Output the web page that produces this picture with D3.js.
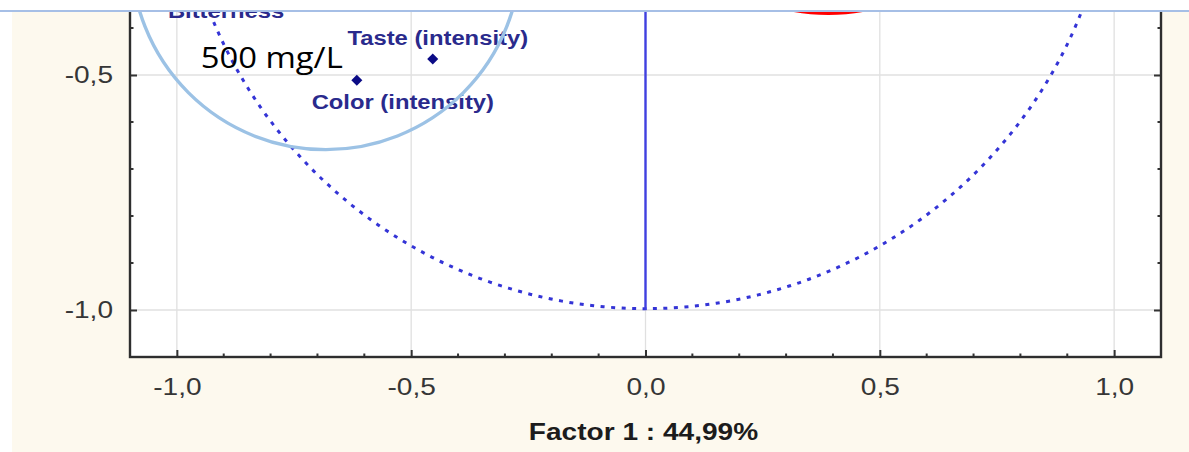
<!DOCTYPE html>
<html>
<head>
<meta charset="utf-8">
<script src="https://cdn.jsdelivr.net/npm/d3@7"></script>
<style>
  html, body { margin: 0; padding: 0; background: #ffffff; }
  svg { display: block; }
</style>
</head>
<body>
<svg id="chart" width="1189" height="452"></svg>
<script>
// Factor loadings (Factor 1, Factor 2) of the sensory variables
const variables = ["Bitterness", "Taste (intensity)", "Color (intensity)"];
const factor1 = [-0.895, -0.454, -0.616];
const factor2 = [-0.319, -0.466, -0.511];

// Axis ticks and their labels (decimal comma)
const tickValues = [-1.0, -0.5, 0.0, 0.5, 1.0];
const tickLabels = ["-1,0", "-0,5", "0,0", "0,5", "1,0"];
const minorTickValues = d3.range(-11, 12).map(i => i / 10);
const xTitle = "Factor 1 : 44,99%";

// Highlight annotations drawn over the plot (data units)
const concentrationNote = "500 mg/L";
const noteAnchor = [-0.949, -0.485];
const highlightCircle = { cx: -0.682, cy: -0.245, r: 0.415 };
const highlightEllipse = { cx: 0.39, cy: -0.255, rx: 0.213, ry: 0.113 };

const W = 1189, H = 452, TOP = 12;
const svg = d3.select("#chart");

const x = d3.scaleLinear().domain([-1.1, 1.1]).range([130, 1161]);
const y = d3.scaleLinear().domain([-1.1, 1.1]).range([357, 357 - 2.2 * 470]);
const unitPx = x(1) - x(0);

// page backgrounds
svg.append("rect").attr("width", W).attr("height", H).attr("fill", "#ffffff");
svg.append("rect").attr("x", 12).attr("y", TOP).attr("width", W - 12).attr("height", H - TOP)
  .attr("fill", "#fdf9ee");

svg.append("defs").append("clipPath").attr("id", "below-rule")
  .append("rect").attr("x", 0).attr("y", TOP).attr("width", W).attr("height", H - TOP);

const g = svg.append("g").attr("clip-path", "url(#below-rule)");

// plot area
const [x0, x1] = x.range();
const [yb, yt] = y.range();
g.append("rect").attr("x", x0).attr("y", yt).attr("width", x1 - x0).attr("height", yb - yt)
  .attr("fill", "#ffffff");

// gridlines
g.append("g").selectAll("line").data(tickValues).join("line")
  .attr("x1", d => x(d)).attr("x2", d => x(d)).attr("y1", yt).attr("y2", yb)
  .attr("stroke", "#e0e0e0").attr("stroke-width", 1.3);
g.append("g").selectAll("line").data(tickValues).join("line")
  .attr("x1", x0).attr("x2", x1).attr("y1", d => y(d)).attr("y2", d => y(d))
  .attr("stroke", "#e0e0e0").attr("stroke-width", 1.3);

// unit correlation circle and the zero axes
g.append("circle").attr("cx", x(0)).attr("cy", y(0)).attr("r", unitPx)
  .attr("fill", "none").attr("stroke", "#3434d6").attr("stroke-width", 3)
  .attr("stroke-dasharray", "4 6.5");
g.append("line").attr("x1", x(0)).attr("x2", x(0)).attr("y1", y(-1)).attr("y2", y(1))
  .attr("stroke", "#4040e0").attr("stroke-width", 2.4);
g.append("line").attr("x1", x(-1)).attr("x2", x(1)).attr("y1", y(0)).attr("y2", y(0))
  .attr("stroke", "#4040e0").attr("stroke-width", 2.4);

// axes with inward ticks
const fmt = d => tickLabels[tickValues.indexOf(d)];
const inView = v => y(v) > TOP;
const axisStyle = sel => {
  sel.select(".domain").remove();
  sel.selectAll(".tick line").attr("stroke", "#333").attr("stroke-width", 2);
  sel.selectAll(".tick text").attr("fill", "#363636")
    .style("font-family", "'Liberation Sans', Arial, sans-serif").style("font-size", "23px")
    .classed("stretch", true);
};
const minorTicks = (sel, orient) => {
  const vals = minorTickValues.filter(v => !tickValues.includes(v))
    .filter(v => orient === "bottom" || inView(v));
  sel.selectAll("line.minor").data(vals)
    .join("line").attr("class", "minor")
    .attr("stroke", "#333").attr("stroke-width", 2)
    .each(function (v) {
      const l = d3.select(this);
      if (orient === "bottom") l.attr("x1", x(v)).attr("x2", x(v)).attr("y1", 0).attr("y2", -3.5);
      if (orient === "left") l.attr("y1", y(v)).attr("y2", y(v)).attr("x1", 0).attr("x2", 3.5);
      if (orient === "right") l.attr("y1", y(v)).attr("y2", y(v)).attr("x1", 0).attr("x2", -3.5);
    });
};

const yTicksShown = tickValues.filter(inView);

g.append("g").attr("transform", `translate(0,${yb})`)
  .call(d3.axisBottom(x).tickValues(tickValues).tickFormat(fmt).tickSizeInner(-7).tickSizeOuter(0).tickPadding(22))
  .call(axisStyle).call(minorTicks, "bottom");
g.append("g").attr("transform", `translate(${x0},0)`)
  .call(d3.axisLeft(y).tickValues(yTicksShown).tickFormat(fmt).tickSizeInner(-7).tickSizeOuter(0).tickPadding(17))
  .call(axisStyle).call(minorTicks, "left");
g.append("g").attr("transform", `translate(${x1},0)`)
  .call(d3.axisRight(y).tickValues(yTicksShown).tickFormat("").tickSizeInner(-7).tickSizeOuter(0))
  .call(axisStyle).call(minorTicks, "right");

// plot frame
g.append("rect").attr("x", x0).attr("y", yt).attr("width", x1 - x0).attr("height", yb - yt)
  .attr("fill", "none").attr("stroke", "#2e2e2e").attr("stroke-width", 2.4);

// variable points and labels
const pts = variables.map((name, i) => ({ name, f1: factor1[i], f2: factor2[i] }));
const labelShift = {
  "Bitterness": [0, 28],
  "Taste (intensity)": [5, -14],
  "Color (intensity)": [46, 29]
};
g.append("g").selectAll("path").data(pts).join("path")
  .attr("transform", d => `translate(${x(d.f1)},${y(d.f2)})`)
  .attr("d", d3.symbol(d3.symbolDiamond2, 78))
  .attr("fill", "#0b0b86");
g.append("g").selectAll("text").data(pts).join("text")
  .attr("class", "stretch")
  .attr("x", d => x(d.f1) + labelShift[d.name][0])
  .attr("y", d => y(d.f2) + labelShift[d.name][1])
  .attr("text-anchor", "middle")
  .attr("fill", "#2a2a8c")
  .style("font-family", "'Liberation Sans', Arial, sans-serif")
  .style("font-weight", "bold").style("font-size", "19.5px")
  .text(d => d.name);

// highlight annotations
g.append("circle")
  .attr("cx", x(highlightCircle.cx)).attr("cy", y(highlightCircle.cy))
  .attr("r", highlightCircle.r * unitPx)
  .attr("fill", "none").attr("stroke", "#9cc2e5").attr("stroke-width", 3.4);
g.append("ellipse")
  .attr("cx", x(highlightEllipse.cx)).attr("cy", y(highlightEllipse.cy))
  .attr("rx", highlightEllipse.rx * unitPx).attr("ry", highlightEllipse.ry * unitPx)
  .attr("fill", "none").attr("stroke", "#ff0000").attr("stroke-width", 4.5);
g.append("text")
  .attr("x", x(noteAnchor[0])).attr("y", y(noteAnchor[1]))
  .attr("fill", "#000000")
  .style("font-family", "'Open Sans', 'Liberation Sans', sans-serif").style("font-size", "30px")
  .attr("textLength", 142).attr("lengthAdjust", "spacingAndGlyphs")
  .text(concentrationNote);

// axis title
svg.append("text").attr("class", "stretch")
  .attr("x", (x0 + x1) / 2 - 2).attr("y", 440)
  .attr("text-anchor", "middle").attr("fill", "#1c1c1c")
  .style("font-family", "'Liberation Sans', Arial, sans-serif")
  .style("font-weight", "bold").style("font-size", "23px")
  .text(xTitle);

// widen the chart lettering to the wide chart proportions
svg.selectAll("text.stretch").each(function () {
  const len = this.getComputedTextLength();
  d3.select(this).attr("textLength", len * 1.22).attr("lengthAdjust", "spacingAndGlyphs");
});

// top rule
svg.append("line").attr("x1", 0).attr("x2", W).attr("y1", 11).attr("y2", 11)
  .attr("stroke", "#a6bfe6").attr("stroke-width", 2.2);
</script>
</body>
</html>
